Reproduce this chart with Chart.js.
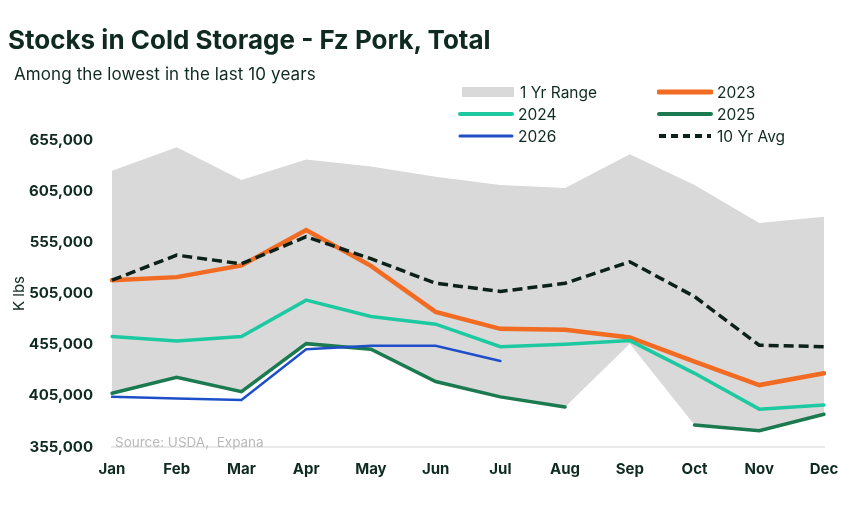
<!DOCTYPE html>
<html>
  <head>
    <script src="https://cdn.jsdelivr.net/npm/chart.js"></script>
  </head>
  <style>
    body {
      margin: 0;
      background: #ffffff;
      font-family: Inter, "Noto Sans", sans-serif;
      color: #0f2a20;
    }
    #container {
      position: relative;
      width: 857px;
      height: 525px;
      overflow: hidden;
    }
    #chart {
      position: absolute;
      left: 0;
      top: 0;
    }
    .title {
      position: absolute;
      left: 8px;
      top: 24px;
      font-size: 26px;
      font-weight: 700;
      letter-spacing: 0;
      white-space: nowrap;
    }
    .subtitle {
      position: absolute;
      left: 14px;
      top: 64px;
      font-size: 17px;
      letter-spacing: 0.1px;
      white-space: nowrap;
    }
    .source {
      position: absolute;
      left: 115px;
      top: 434px;
      font-size: 13.5px;
      color: #b9b9b9;
      white-space: nowrap;
    }
    .legend-item {
      position: absolute;
      height: 20px;
      display: flex;
      align-items: center;
      font-size: 15.5px;
      white-space: nowrap;
    }
    .legend-item canvas {
      margin-right: 4px;
    }
  </style>
  <body>
    <div id="container">
      <canvas id="chart" width="857" height="525"></canvas>
      <div class="title">Stocks in Cold Storage - Fz Pork, Total</div>
      <div class="subtitle">Among the lowest in the last 10 years</div>
      <div class="source">Source: USDA,&nbsp; Expana</div>
      <div id="legend"></div>
    </div>
    <script>
      const MONTHS = ['Jan', 'Feb', 'Mar', 'Apr', 'May', 'Jun', 'Jul', 'Aug', 'Sep', 'Oct', 'Nov', 'Dec'];

      const RANGE_HIGH = [625000, 648000, 616000, 636000, 629000, 619000, 611000, 608000, 641000, 611000, 574000, 580000];
      const RANGE_LOW = [407500, 423000, 409000, 456000, 450500, 419000, 404000, 394000, 456000, 376500, 371000, 387000];
      const AVG_10YR = [518000, 542500, 534000, 560500, 539000, 515000, 507000, 515000, 536000, 502000, 454500, 453000];
      const Y2023 = [518000, 521000, 532500, 567000, 532000, 487000, 470500, 469500, 462000, 438500, 415500, 427000];
      const Y2024 = [463000, 458500, 463000, 498500, 482500, 475000, 453000, 455500, 459000, 427000, 392000, 396000];
      const Y2025 = [407500, 423000, 409000, 456000, 450500, 419000, 404000, 394000, null, 376500, 371000, 387000];
      const Y2026 = [404000, 402500, 401000, 450500, 454000, 454000, 439000, null, null, null, null, null];

      const Y_TICKS = [355000, 405000, 455000, 505000, 555000, 605000, 655000];

      const COLORS = {
        range: '#d9d9d9',
        y2023: '#f26b22',
        y2024: '#1dc9a0',
        y2025: '#1b7a4f',
        y2026: '#1f4fc8',
        avg: '#0c2118',
        text: '#0f2a20',
        axis: '#e9e9e9'
      };

      const line = (label, data, color, width, dash) => ({
        label: label,
        data: data,
        borderColor: color,
        backgroundColor: color,
        borderWidth: width,
        borderDash: dash || [],
        pointRadius: 0,
        fill: false,
        tension: 0,
        borderCapStyle: dash ? 'butt' : 'round'
      });

      // the first dataset is drawn on top
      const datasets = [
        line('10 Yr Avg', AVG_10YR, COLORS.avg, 3.5, [10, 5]),
        line('2026', Y2026, COLORS.y2026, 2.5),
        line('2025', Y2025, COLORS.y2025, 3.5),
        line('2024', Y2024, COLORS.y2024, 3.5),
        line('2023', Y2023, COLORS.y2023, 4.5),
        {
          label: '1 Yr Range',
          data: RANGE_HIGH,
          borderWidth: 0,
          pointRadius: 0,
          backgroundColor: COLORS.range,
          borderColor: COLORS.range,
          fill: '+1',
          tension: 0
        },
        {
          label: 'range low',
          data: RANGE_LOW,
          borderWidth: 0,
          pointRadius: 0,
          borderColor: 'rgba(0,0,0,0)',
          fill: false,
          tension: 0
        }
      ];

      const chart = new Chart(document.getElementById('chart'), {
        type: 'line',
        data: { labels: MONTHS, datasets: datasets },
        options: {
          responsive: false,
          animation: false,
          devicePixelRatio: 1,
          layout: { padding: { left: 0, top: 140, right: 33, bottom: 38 } },
          plugins: {
            legend: { display: false },
            tooltip: { enabled: false }
          },
          scales: {
            x: {
              grid: { display: false, drawTicks: false, tickLength: 0 },
              border: { display: true, color: COLORS.axis, width: 2 },
              ticks: {
                color: COLORS.text,
                font: { family: 'Inter', size: 15, weight: 'bold' },
                padding: 13,
                maxRotation: 0
              },
              afterFit: (scale) => { scale.height = 40; }
            },
            y: {
              min: 355000,
              max: 655000,
              afterBuildTicks: (scale) => {
                scale.ticks = Y_TICKS.map(v => ({ value: v }));
              },
              grid: { display: false, drawTicks: false, tickLength: 0 },
              border: { display: false },
              ticks: {
                color: COLORS.text,
                font: { family: 'Inter', size: 15, weight: 'bold' },
                padding: 19,
                callback: (v) => v.toLocaleString('en-US')
              },
              title: {
                display: true,
                text: 'K lbs',
                color: COLORS.text,
                font: { family: 'Inter', size: 15 },
                padding: { top: 10, bottom: 0 }
              },
              afterFit: (scale) => { scale.width = 112; }
            }
          }
        }
      });

      // legend in two columns, built from the datasets
      const LEGEND = [
        { label: '1 Yr Range', x: 460, y: 82, kind: 'box', color: COLORS.range },
        { label: '2023', x: 657, y: 82, kind: 'line', color: COLORS.y2023, width: 5 },
        { label: '2024', x: 458, y: 104, kind: 'line', color: COLORS.y2024, width: 4 },
        { label: '2025', x: 657, y: 104, kind: 'line', color: COLORS.y2025, width: 4 },
        { label: '2026', x: 458, y: 126, kind: 'line', color: COLORS.y2026, width: 3 },
        { label: '10 Yr Avg', x: 657, y: 126, kind: 'dash', color: COLORS.avg, width: 4 }
      ];

      const legendBox = document.getElementById('legend');
      LEGEND.forEach(item => {
        const div = document.createElement('div');
        div.className = 'legend-item';
        div.style.left = item.x + 'px';
        div.style.top = item.y + 'px';
        const sw = document.createElement('canvas');
        sw.width = 56;
        sw.height = 12;
        const ctx = sw.getContext('2d');
        if (item.kind === 'box') {
          ctx.fillStyle = item.color;
          ctx.fillRect(2, 1, 52, 10);
        } else {
          ctx.strokeStyle = item.color;
          ctx.lineWidth = item.width;
          ctx.lineCap = 'round';
          if (item.kind === 'dash') {
            ctx.setLineDash([7, 5]);
            ctx.lineCap = 'butt';
          }
          ctx.beginPath();
          ctx.moveTo(2, 6);
          ctx.lineTo(54, 6);
          ctx.stroke();
        }
        div.appendChild(sw);
        const span = document.createElement('span');
        span.textContent = item.label;
        div.appendChild(span);
        legendBox.appendChild(div);
      });
    </script>
  </body>
</html>
